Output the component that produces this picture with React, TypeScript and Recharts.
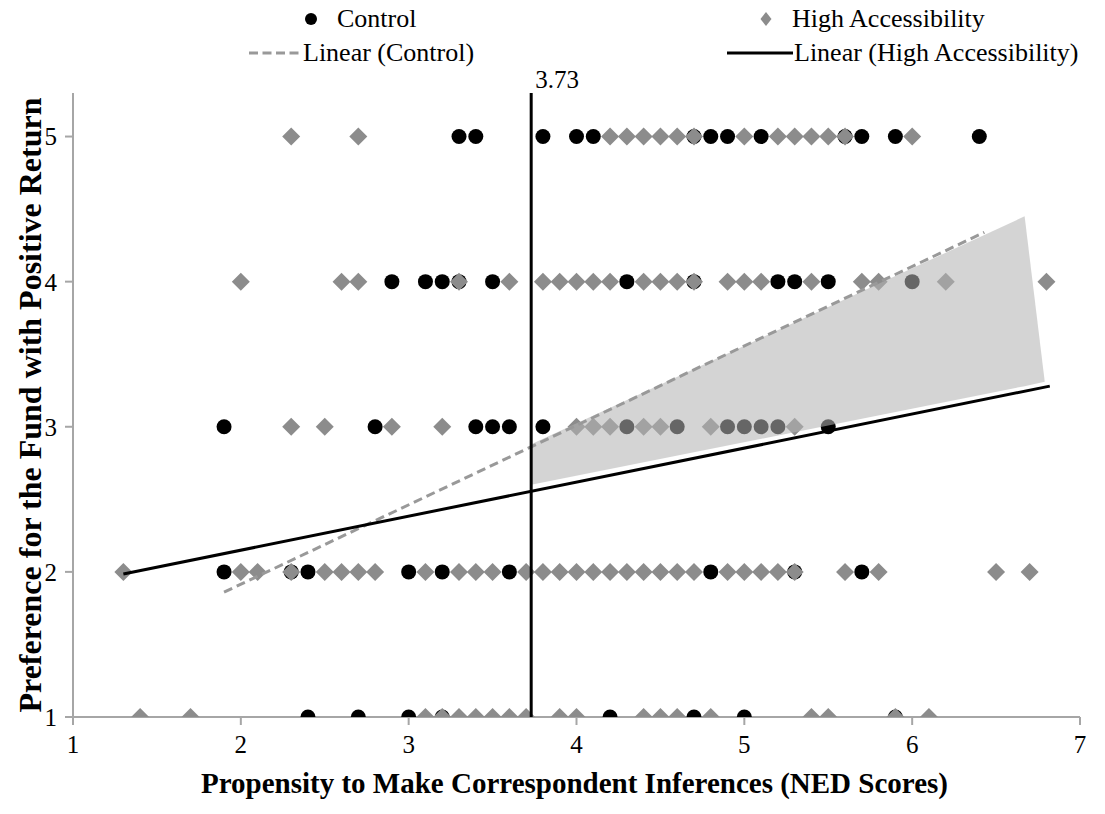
import { ComposedChart, Scatter, Area, XAxis, YAxis, ReferenceLine, Label } from 'recharts';

const serif = "'Liberation Serif', 'Times New Roman', serif";

const xTicks = [1, 2, 3, 4, 5, 6, 7];
const yTicks = [1, 2, 3, 4, 5];

// Control group scores, one list per preference level
const controlAt5 = [3.3, 3.4, 3.8, 4.0, 4.1, 4.7, 4.8, 4.9, 5.1, 5.6, 5.7, 5.9, 6.4];
const controlAt4 = [2.9, 3.1, 3.2, 3.3, 3.5, 4.3, 4.7, 5.2, 5.3, 5.5, 6.0];
const controlAt3 = [1.9, 2.8, 3.4, 3.5, 3.6, 3.8, 4.3, 4.6, 4.9, 5.0, 5.1, 5.2, 5.5];
const controlAt2 = [1.9, 2.3, 2.4, 3.0, 3.2, 3.6, 4.8, 5.3, 5.7];
const controlAt1 = [2.4, 2.7, 3.0, 3.2, 4.2, 4.7, 5.0, 5.9];

// High accessibility group
const highAt5 = [2.3, 2.7, 4.2, 4.3, 4.4, 4.5, 4.6, 4.7, 5.0, 5.2, 5.3, 5.4, 5.5, 5.6, 6.0];
const highAt4 = [2.0, 2.6, 2.7, 3.3, 3.6, 3.8, 3.9, 4.0, 4.1, 4.2, 4.4, 4.5, 4.6, 4.7, 4.9, 5.0, 5.1, 5.4, 5.7, 5.8, 6.2, 6.8];
const highAt3 = [2.3, 2.5, 2.9, 3.2, 4.0, 4.1, 4.2, 4.4, 4.5, 4.8, 5.3];
const highAt2 = [1.3, 2.0, 2.1, 2.3, 2.5, 2.6, 2.7, 2.8, 3.1, 3.3, 3.4, 3.5, 3.7, 3.8, 3.9, 4.0, 4.1, 4.2, 4.3, 4.4, 4.5, 4.6, 4.7, 4.9, 5.0, 5.1, 5.2, 5.3, 5.6, 5.8, 6.5, 6.7];
const highAt1 = [1.4, 1.7, 3.1, 3.2, 3.3, 3.4, 3.5, 3.6, 3.7, 3.9, 4.0, 4.4, 4.5, 4.6, 4.8, 5.4, 5.5, 5.9, 6.1];

const cutoff = 3.73;
const controlTrend = [{ x: 1.9, y: 1.86 }, { x: 6.43, y: 4.34 }];
const highTrend = [{ x: 1.3, y: 1.985 }, { x: 6.82, y: 3.28 }];

// shaded region between the two trend lines, right of the cutoff
const bandX = [3.73, 6.67, 6.79];
const bandLow = [2.6, 3.28, 3.31];
const bandHigh = [2.88, 4.45, 3.31];

const toPoints = (xs: number[], y: number) => xs.map(x => ({ x, y }));

const controlData = [
  ...toPoints(controlAt1, 1),
  ...toPoints(controlAt2, 2),
  ...toPoints(controlAt3, 3),
  ...toPoints(controlAt4, 4),
  ...toPoints(controlAt5, 5),
];
const highData = [
  ...toPoints(highAt1, 1),
  ...toPoints(highAt2, 2),
  ...toPoints(highAt3, 3),
  ...toPoints(highAt4, 4),
  ...toPoints(highAt5, 5),
];
const bandData = bandX.map((x, i) => ({ x, band: [bandLow[i], bandHigh[i]] }));

const Dot = (props: any) => <circle cx={props.cx} cy={props.cy} r={7.5} fill="#000" />;
const Diamond = (props: any) => {
  const { cx, cy } = props;
  return <polygon points={`${cx},${cy - 9} ${cx + 9},${cy} ${cx},${cy + 9} ${cx - 9},${cy}`} fill="#8c8c8c" />;
};

const axisColor = '#a6a6a6';
const tickStyle = { fontSize: 25, fill: '#000', fontFamily: serif };

const App = () => {
  return (
    <div style={{ position: 'absolute', left: 0, top: 0, width: 1105, height: 814, background: '#fff' }}>
      <ComposedChart width={1105} height={814} data={bandData} margin={{ top: 93, right: 25, left: 0, bottom: 0 }}>
        <XAxis
          type="number"
          dataKey="x"
          domain={[1, 7]}
          ticks={xTicks}
          allowDataOverflow
          height={97}
          tick={tickStyle}
          tickSize={8}
          tickMargin={10}
          axisLine={{ stroke: axisColor, strokeWidth: 2 }}
          tickLine={{ stroke: axisColor, strokeWidth: 2 }}
        >
          <Label
            content={(p: any) => (
              <text x={p.viewBox.x + p.viewBox.width / 2 - 2} y={p.viewBox.y + 76} textAnchor="middle"
                fontFamily={serif} fontSize={29} fontWeight="bold" fill="#000">
                Propensity to Make Correspondent Inferences (NED Scores)
              </text>
            )}
          />
        </XAxis>
        <YAxis
          type="number"
          dataKey="y"
          domain={[1, 5.3]}
          ticks={yTicks}
          allowDataOverflow
          width={73}
          tick={tickStyle}
          tickSize={8}
          tickMargin={8}
          axisLine={{ stroke: axisColor, strokeWidth: 2 }}
          tickLine={{ stroke: axisColor, strokeWidth: 2 }}
        >
          <Label
            content={(p: any) => {
              const cy = p.viewBox.y + p.viewBox.height / 2;
              return (
                <text x={41} y={cy} transform={`rotate(-90, 41, ${cy})`} textAnchor="middle"
                  fontFamily={serif} fontSize={32} fontWeight="bold" fill="#000">
                  Preference for the Fund with Positive Return
                </text>
              );
            }}
          />
        </YAxis>
        <Scatter name="Control" data={controlData} shape={Dot} isAnimationActive={false} zIndex={600} />
        <Scatter name="High Accessibility" data={highData} shape={Diamond} isAnimationActive={false} zIndex={610} />
        <Area type="linear" dataKey="band" stroke="none" fill="#b3b3b3" fillOpacity={0.57} isAnimationActive={false} zIndex={650} />
        <ReferenceLine segment={controlTrend} stroke="#999" strokeWidth={3} strokeDasharray="9 5" zIndex={700} />
        <ReferenceLine segment={highTrend} stroke="#000" strokeWidth={3} zIndex={700} />
        <ReferenceLine
          x={cutoff}
          stroke="#000"
          strokeWidth={3}
          zIndex={700}
          label={(p: any) => (
            <text x={p.viewBox.x + 4} y={p.viewBox.y - 5} fontFamily={serif} fontSize={25} fill="#000">
              {cutoff}
            </text>
          )}
        />
      </ComposedChart>
      <svg width={1105} height={70} style={{ position: 'absolute', left: 0, top: 0 }}>
        <circle cx={311} cy={19} r={6} fill="#000" />
        <text x={337} y={27} fontFamily={serif} fontSize={26} fill="#000">Control</text>
        <polygon points="766,12 771.5,19 766,26 760.5,19" fill="#8c8c8c" />
        <text x={792} y={27} fontFamily={serif} fontSize={26} fill="#000">High Accessibility</text>
        <line x1={249} y1={53} x2={301} y2={53} stroke="#999" strokeWidth={3} strokeDasharray="9 4.5" />
        <text x={303} y={61} fontFamily={serif} fontSize={26} fill="#000">Linear (Control)</text>
        <line x1={727} y1={53} x2={793} y2={53} stroke="#000" strokeWidth={3} />
        <text x={794} y={61} fontFamily={serif} fontSize={26} fill="#000">Linear (High Accessibility)</text>
      </svg>
    </div>
  );
};

export default App;
